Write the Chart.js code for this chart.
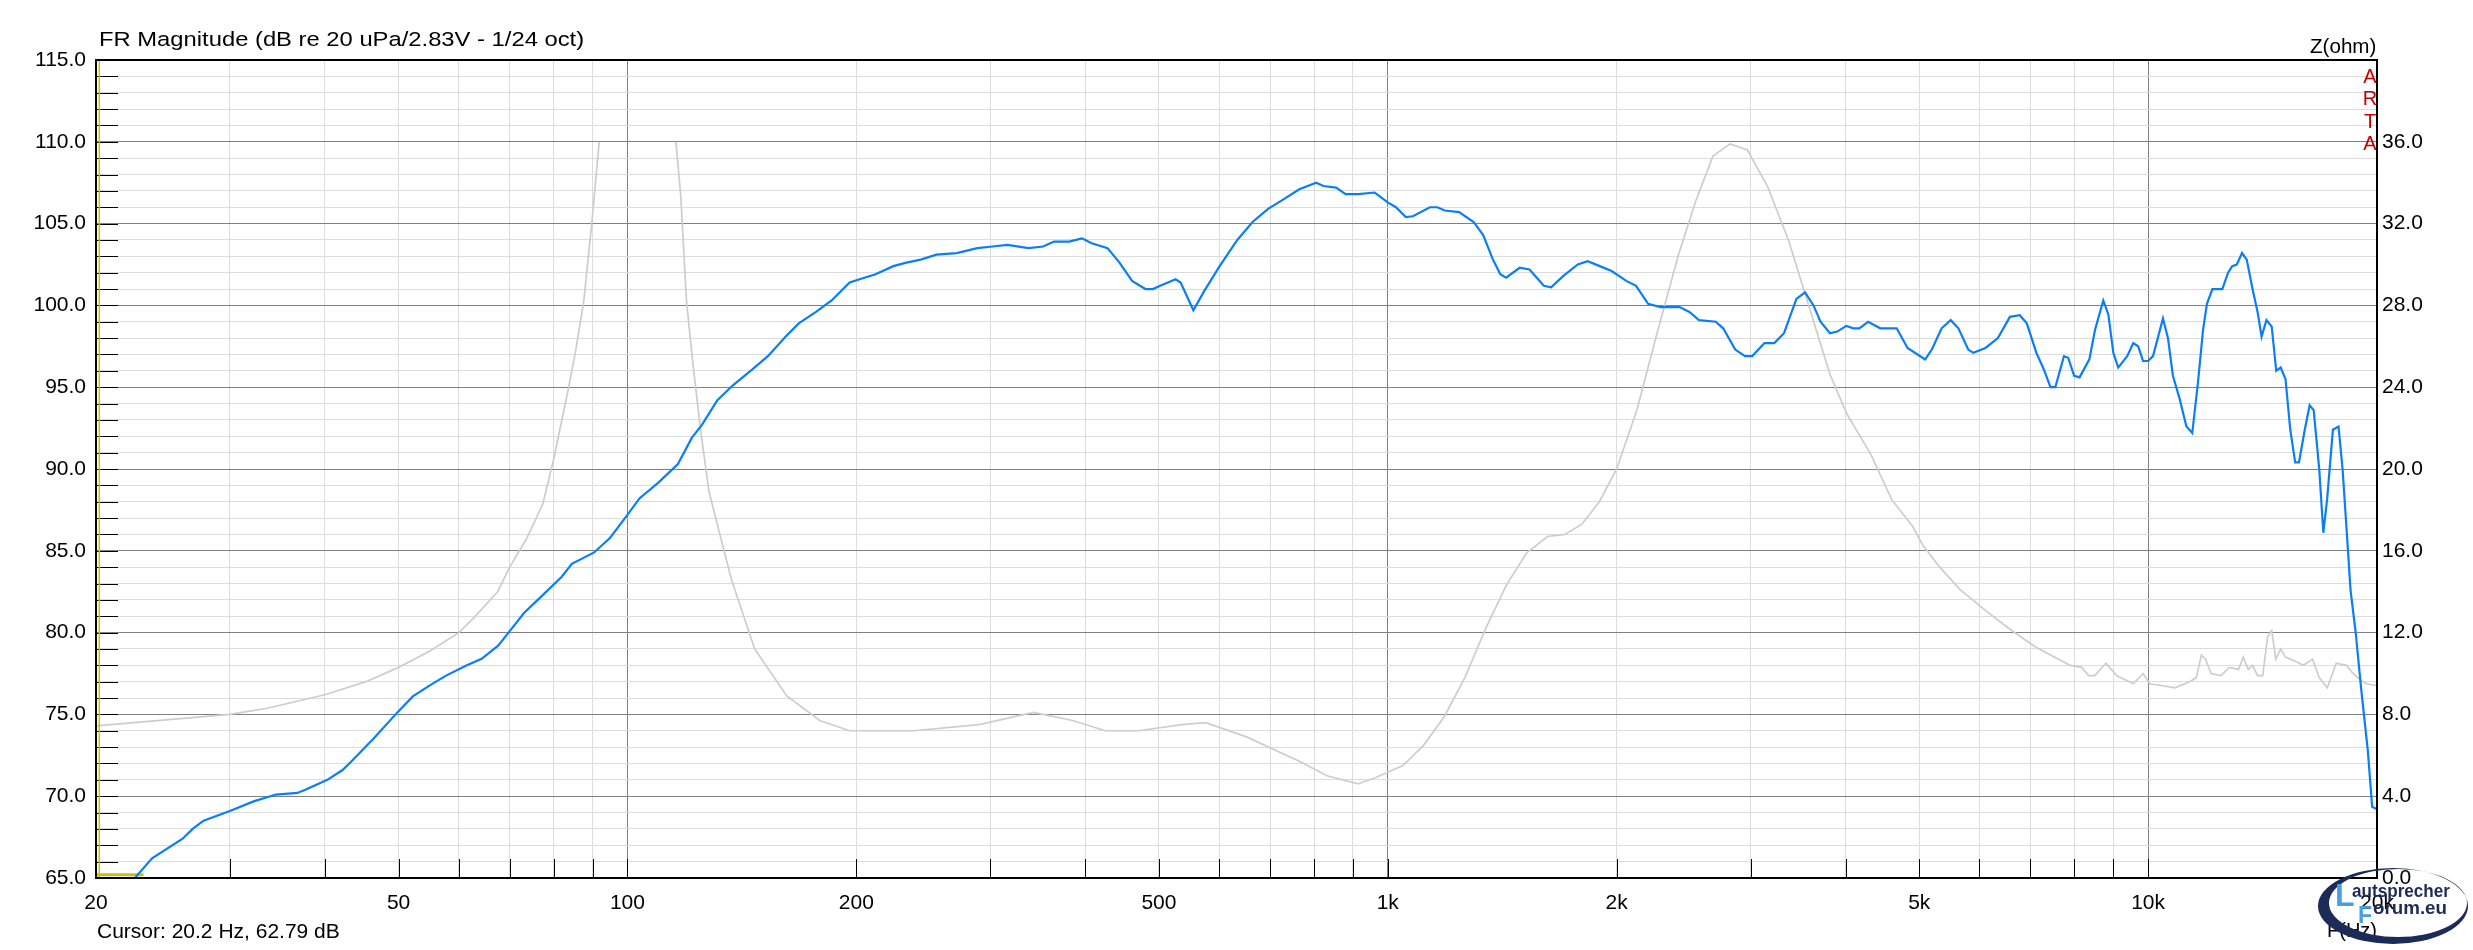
<!DOCTYPE html>
<html><head><meta charset="utf-8">
<script src="https://cdn.jsdelivr.net/npm/chart.js@4"></script>
<style>
html,body{margin:0;padding:0;background:#fff;overflow:hidden}
#wrap{position:relative;width:2473px;height:950px;background:#fff}
#c{position:absolute;left:0;top:0}
.t{position:absolute;font-family:"Liberation Sans",Arial,sans-serif;color:#000;white-space:nowrap;line-height:1;transform-origin:0 0}
</style></head><body>
<div id="wrap">
<canvas id="c" width="2473" height="950"></canvas>
<div class="t" style="left:99px;top:29px;font-size:20.5px;transform:scaleX(1.16)">FR Magnitude (dB re 20 uPa/2.83V - 1/24 oct)</div>
<div class="t" style="left:2310px;top:36px;font-size:20px;transform:scaleX(1.03)">Z(ohm)</div>
<div class="t" style="left:2360px;top:65px;width:20px;text-align:center;font-size:20px;line-height:22.3px;color:#c80000;white-space:normal">A<br>R<br>T<br>A</div>
<div class="t" style="left:97px;top:921px;font-size:20px;transform:scaleX(1.05)">Cursor: 20.2 Hz, 62.79 dB</div>
<div class="t" style="left:2327px;top:920px;font-size:20px">F(Hz)</div>
<svg style="position:absolute;left:2300px;top:855px" width="173" height="95" viewBox="0 0 173 95">
  <path fill="#1c2b57" fill-rule="evenodd" d="M18,51 a75,38 0 1,0 150,0 a75,38 0 1,0 -150,0 Z M29,48 a69,34 0 1,0 138,0 a69,34 0 1,0 -138,0 Z"/>
  <text x="35" y="51" font-family="Liberation Sans, Arial, sans-serif" font-weight="bold" font-size="32" fill="#4a9ee8">L</text>
  <text x="52" y="42" font-family="Liberation Sans, Arial, sans-serif" font-weight="bold" font-size="19" fill="#1c2b57" textLength="98" lengthAdjust="spacingAndGlyphs">autsprecher</text>
  <text x="58" y="68" font-family="Liberation Sans, Arial, sans-serif" font-weight="bold" font-size="23" fill="#4a9ee8">F</text>
  <text x="73" y="59" font-family="Liberation Sans, Arial, sans-serif" font-weight="bold" font-size="19" fill="#1c2b57" textLength="74" lengthAdjust="spacingAndGlyphs">orum.eu</text>
</svg>
</div>
<script>
// ---- data ----
const frFreq = [20.2,22.5,23.7,26.0,26.8,27.7,30.0,32.3,34.5,36.8,37.7,40.3,42.2,43.3,46.3,50.0,52.2,55.5,57.9,61.5,64.3,67.6,70.3,73.1,77.0,81.9,84.5,90.4,94.9,100,103.7,110,116.5,119.3,121.5,125.3,131.3,137.5,146.1,153,161.5,168,177,185.6,196,202,212,223.7,232,243,255,271,288.5,302,316,337,352,364,381,396,408,428,444,461,480,491,502,526,534,555,574,601,634,664,696,730,765,805,823,855,880,915,961,1000,1025,1056,1079,1136,1162,1188,1241,1297,1335,1375,1406,1431,1491,1536,1604,1640,1702,1778,1832,1900,1970,2059,2121,2200,2283,2420,2493,2566,2700,2761,2864,2950,3016,3129,3224,3320,3447,3538,3630,3708,3816,3900,4010,4096,4170,4283,4443,4670,4826,5090,5195,5350,5500,5630,5800,5890,6110,6345,6580,6780,6925,7130,7290,7440,7550,7750,7850,7993,8125,8370,8514,8730,8865,9000,9135,9386,9560,9703,9850,10000,10150,10460,10620,10780,11000,11230,11430,11630,11810,11950,12150,12520,12740,12900,13080,13290,13480,13720,13930,14100,14310,14540,14740,14940,15160,15380,15610,15790,16070,16310,16510,16790,17000,17200,17500,17800,18020,18240,18460,18750,19070,19450,19710,20000];
const frDb = [62.79,65.0,66.2,67.4,68.0,68.5,69.1,69.7,70.1,70.2,70.4,71.0,71.6,72.1,73.5,75.2,76.1,76.9,77.4,78.0,78.4,79.2,80.2,81.2,82.2,83.4,84.2,84.9,85.8,87.2,88.2,89.2,90.3,91.2,91.9,92.7,94.2,95.1,96.1,96.9,98.1,98.9,99.6,100.3,101.4,101.6,101.9,102.4,102.6,102.8,103.1,103.2,103.5,103.6,103.7,103.5,103.6,103.9,103.9,104.1,103.8,103.5,102.6,101.5,101.0,101.0,101.2,101.6,101.4,99.7,100.9,102.4,104.0,105.1,105.9,106.5,107.1,107.5,107.3,107.2,106.8,106.8,106.9,106.3,106.0,105.4,105.45,106.0,106.0,105.8,105.7,105.1,104.3,102.8,101.9,101.7,102.3,102.2,101.2,101.1,101.8,102.5,102.7,102.4,102.1,101.5,101.2,100.1,99.9,99.9,99.6,99.1,99.0,98.6,97.3,96.9,96.9,97.7,97.7,98.3,100.4,100.8,100.0,99.0,98.3,98.4,98.75,98.6,98.6,99.0,98.6,98.6,97.4,96.7,97.3,98.6,99.1,98.6,97.3,97.1,97.4,98.0,99.3,99.4,98.9,97.1,96.1,95.0,95.0,96.9,96.8,95.7,95.6,96.7,98.5,100.3,99.45,97.1,96.2,96.9,97.7,97.5,96.6,96.6,96.9,99.2,98.0,95.7,94.3,92.6,92.2,95.3,98.5,100.1,101.0,101.0,102.0,102.4,102.5,103.2,102.8,101.0,99.6,98.1,99.1,98.7,96.0,96.2,95.5,92.4,90.4,90.4,92.4,93.9,93.6,90.0,86.1,88.2,92.4,92.6,90.0,86.3,82.6,80.0,76.5,72.8,69.35,69.2];

const zFreq = [20,30,33.6,40,45.3,50,55,60,62.7,67.5,70,73.7,77.4,80,83.5,85.5,87.6,89.7,91.8,103,115.8,117.5,119.6,121.8,124.9,128,137,147,162,179,196,238,290,342,385,425,470,536,576,652,766,832,914,963,1047,1115,1187,1263,1345,1431,1523,1622,1710,1800,1898,2000,2127,2266,2413,2541,2677,2820,2972,3160,3365,3584,3818,4015,4320,4600,4900,5050,5320,5660,6150,6560,7110,7440,7900,8180,8350,8510,8800,9090,9560,9850,10050,10460,10840,11340,11570,11750,11900,12100,12470,12790,13150,13340,13540,13720,13930,14150,14360,14540,14720,14940,15160,15610,16000,16450,16790,17200,17680,18240,18500,18980,19370,20000];
const zOhm = [7.44,8.0,8.3,8.96,9.6,10.3,11.1,12.0,12.7,14.0,15.2,16.6,18.3,20.5,23.8,25.8,28.2,31.9,36.0,null,36.0,33.4,28.2,25.3,21.8,18.9,14.6,11.2,8.9,7.7,7.2,7.2,7.5,8.1,7.7,7.2,7.2,7.5,7.6,6.9,5.7,5.0,4.6,4.9,5.5,6.5,7.9,9.8,12.2,14.3,15.9,16.7,16.8,17.3,18.4,20.0,22.9,26.8,30.5,33.1,35.3,35.9,35.6,33.8,31.2,27.9,24.6,22.7,20.7,18.5,17.2,16.3,15.2,14.1,13.0,12.2,11.3,10.9,10.4,10.3,9.9,9.9,10.5,9.9,9.5,10.0,9.5,9.4,9.3,9.6,9.8,10.9,10.7,10.0,9.9,10.3,10.2,10.8,10.2,10.4,9.9,9.9,11.8,12.1,10.7,11.2,10.8,10.6,10.4,10.7,9.8,9.3,10.5,10.4,10.1,9.7,9.5,9.4];

// cursor (yellow) marks
const cursorFreq = [20.2,20.2];
const cursorDb = [65,115];
const cursorLevelFreq = [20,23.1];
const cursorLevelDb = [65.2,65.2];

// axes
const xMin = 20, xMax = 20000;
const xGrid = [20,30,40,50,60,70,80,90,100,200,300,400,500,600,700,800,900,1000,2000,3000,4000,5000,6000,7000,8000,9000,10000,20000];
const xMajor = [100,1000,10000];
const xLabelValues = [20,50,100,200,500,1000,2000,5000,10000,20000];
const xLabelText = ['20','50','100','200','500','1k','2k','5k','10k','20k'];
const yMin = 65, yMax = 115, yStep = 1, yLabelEvery = 5;
const zMin = 0, zMax = 40;
const zTicks = [0,4,8,12,16,20,24,28,32,36];

const yTicks = [];
for (let v = yMin; v <= yMax; v += yStep) yTicks.push(v);

const toXY = (xs, ys) => xs.map((x, i) => ({x, y: ys[i]}));
const FONT = {family: '"Liberation Sans", Arial, sans-serif', size: 21};

const innerTicks = {
  id: 'innerTicks',
  beforeDatasetsDraw(chart) {
    const {ctx, chartArea: a, scales: {x, y}} = chart;
    ctx.save();
    ctx.strokeStyle = '#000';
    ctx.lineWidth = 1;
    ctx.beginPath();
    for (const v of yTicks) {
      if (v === yMin || v === yMax) continue;
      const py = Math.round(y.getPixelForValue(v)) + 0.5;
      ctx.moveTo(a.left, py); ctx.lineTo(a.left + 22, py);
    }
    for (const f of xGrid) {
      if (f === xMin || f === xMax) continue;
      const px = Math.round(x.getPixelForValue(f)) + 0.5;
      ctx.moveTo(px, a.bottom); ctx.lineTo(px, a.bottom - 19);
    }
    ctx.stroke();
    ctx.restore();
  },
  afterDraw(chart) {
    const {ctx, chartArea: a} = chart;
    ctx.save();
    ctx.strokeStyle = '#000';
    ctx.lineWidth = 2;
    ctx.strokeRect(a.left, a.top, a.right - a.left, a.bottom - a.top);
    ctx.restore();
  }
};

new Chart(document.getElementById('c'), {
  type: 'line',
  data: {
    datasets: [
      {label: 'FR', data: toXY(frFreq, frDb), yAxisID: 'y', borderColor: '#0a7ff5', borderWidth: 2.2, pointRadius: 0, tension: 0},
      {label: 'Cursor', data: toXY(cursorFreq, cursorDb), yAxisID: 'y', borderColor: '#c8c400', borderWidth: 1.5, pointRadius: 0},
      {label: 'Cursor level', data: toXY(cursorLevelFreq, cursorLevelDb), yAxisID: 'y', borderColor: '#c8c400', borderWidth: 3, pointRadius: 0},
      {label: 'Z', data: toXY(zFreq, zOhm), yAxisID: 'y2', borderColor: '#cdcdcd', borderWidth: 1.7, pointRadius: 0, spanGaps: false, tension: 0}
    ]
  },
  options: {
    responsive: false,
    animation: false,
    devicePixelRatio: 1,
    layout: {padding: {top: 60, left: 0, right: 0, bottom: 0}},
    plugins: {legend: {display: false}, tooltip: {enabled: false}, title: {display: false}},
    scales: {
      x: {
        type: 'logarithmic', min: xMin, max: xMax, position: 'bottom',
        afterBuildTicks: s => { s.ticks = xGrid.map(v => ({value: v})); },
        afterFit: s => { s.height = 72; },
        ticks: {
          autoSkip: false, maxRotation: 0, minRotation: 0, padding: 13, color: '#000', font: FONT,
          callback: v => { const i = xLabelValues.indexOf(v); return i >= 0 ? xLabelText[i] : ''; }
        },
        grid: {drawTicks: false, tickLength: 0, lineWidth: 1,
          color: c => xMajor.includes(c.tick && c.tick.value) ? '#808080' : '#dcdcdc'},
        border: {display: true, color: '#000', width: 2}
      },
      y: {
        type: 'linear', min: yMin, max: yMax, position: 'left',
        afterBuildTicks: s => { s.ticks = yTicks.map(v => ({value: v})); },
        afterFit: s => { s.width = 96; },
        ticks: {autoSkip: false, padding: 10, color: '#000', font: FONT,
          callback: v => (v % yLabelEvery === 0 ? Number(v).toFixed(1) : '')},
        grid: {drawTicks: false, tickLength: 0, lineWidth: 1,
          color: c => (c.tick && c.tick.value % yLabelEvery === 0) ? '#808080' : '#dcdcdc'},
        border: {display: true, color: '#000', width: 2}
      },
      y2: {
        type: 'linear', min: zMin, max: zMax, position: 'right',
        afterBuildTicks: s => { s.ticks = zTicks.map(v => ({value: v})); },
        afterFit: s => { s.width = 96; },
        ticks: {autoSkip: false, padding: 5, color: '#000', font: FONT,
          callback: v => Number(v).toFixed(1)},
        grid: {drawOnChartArea: false, drawTicks: false, tickLength: 0},
        border: {display: true, color: '#000', width: 2}
      }
    }
  },
  plugins: [innerTicks]
});
</script>
</body></html>
